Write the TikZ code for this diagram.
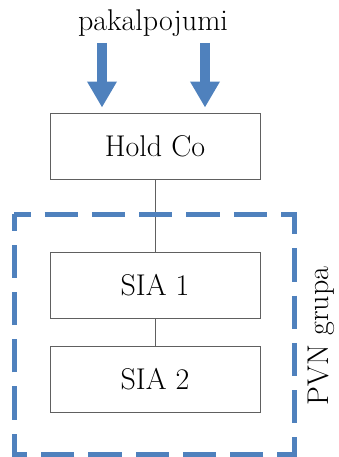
\documentclass[tikz,border=0pt]{standalone}
\usepackage{tikz}
\usetikzlibrary{arrows.meta}
\definecolor{grpblue}{RGB}{79,129,189}
\definecolor{boxgray}{RGB}{96,96,96}

\begin{document}
\begin{tikzpicture}[x=1pt, y=-1pt,
    every node/.style={font=\fontsize{30}{34}\selectfont, text=black},
    cobox/.style={draw=boxgray, line width=0.9pt, minimum width=210pt, minimum height=66pt, inner sep=0pt},
    colink/.style={draw=boxgray, line width=0.9pt},
    inflow/.style={draw=grpblue, line width=10pt, -{Triangle[width=28pt, length=26pt]}, shorten >=5pt},
    grpframe/.style={draw=grpblue, line width=5pt, dash pattern=on 33.27pt off 14pt, dash phase=16.6pt}]

    \useasboundingbox (0,0) rectangle (338,457);

    \node[anchor=base] (P) at (153,31) {pakalpojumi};

    \node[cobox] (H) at (155,146) {Hold Co};
    \node[cobox] (S1) at (155,285) {SIA 1};
    \node[cobox] (S2) at (155,379) {SIA 2};

    \coordinate (A1) at (102,43);
    \coordinate (A2) at (205,43);
    \draw[inflow] (A1) -- (A1 |- H.north);
    \draw[inflow] (A2) -- (A2 |- H.north);

    \draw[colink] (H) -- (S1);
    \draw[colink] (S1) -- (S2);

    % PVN grupa
    \coordinate (G1) at (14,214);
    \coordinate (G2) at (294,214);
    \coordinate (G3) at (294,454);
    \coordinate (G4) at (14,454);
    \draw[grpframe] (G1) -- (G2) -- (G3) -- (G4) -- cycle;
    \node[rotate=90, anchor=base] (L) at (328,336) {PVN grupa};
\end{tikzpicture}
\end{document}
